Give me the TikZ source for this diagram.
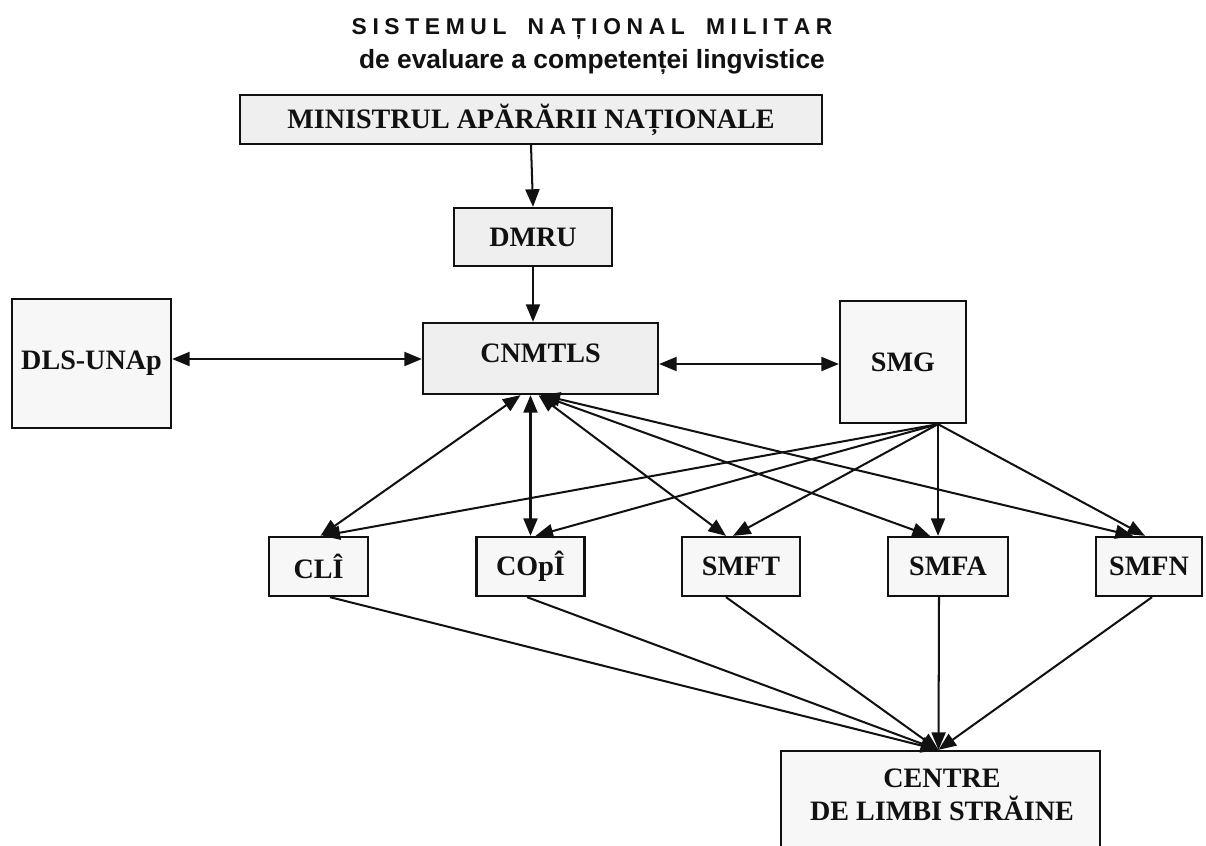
\documentclass[tikz,border=0pt]{standalone}
\usepackage{fontspec}
\setmainfont{Liberation Serif}
\newfontfamily\titlefont{Liberation Sans}
\usetikzlibrary{arrows.meta,calc}
\definecolor{fillA}{HTML}{EFEFEF}
\definecolor{fillB}{HTML}{F7F7F7}
\definecolor{ink}{HTML}{111111}
\newcommand{\pxu}{0.02cm}
\newcommand{\lsp}{\hspace{3.2pt}}
\newcommand{\wsp}{\hspace{12pt}}
\tikzset{
  box/.style={draw=ink, line width=1.3pt, rectangle, inner sep=0pt, text=ink,
    font=\bfseries\fontsize{16}{19}\selectfont, align=center},
  boxA/.style={box, fill=fillA},
  boxB/.style={box, fill=fillB},
  arr/.style={draw=ink, line width=1.15pt, -{Triangle[length=10pt,width=8pt]}},
  darr/.style={draw=ink, line width=1.15pt, {Triangle[length=10pt,width=8pt]}-{Triangle[length=10pt,width=8pt]}},
  ttl/.style={text=ink, inner sep=0pt, anchor=base}
}
\begin{document}
\begin{tikzpicture}[x=0.02cm,y=-0.02cm]
\clip (0,0) rectangle (1206,845);
\useasboundingbox (0,0) rectangle (1206,845);
\fill[white] (0,0) rectangle (1206,845);
% title
\node[ttl, font=\titlefont\bfseries\fontsize{13}{15}\selectfont] (t1) at (592,34)
  {S\lsp I\lsp S\lsp T\lsp E\lsp M\lsp U\lsp L\wsp N\lsp A\lsp Ț\lsp I\lsp O\lsp N\lsp A\lsp L\wsp M\lsp I\lsp L\lsp I\lsp T\lsp A\lsp R};
\node[ttl, font=\titlefont\bfseries\fontsize{15}{18}\selectfont] (t2) at (592,68)
  {de evaluare a competenței lingvistice};
% boxes
\node[boxA, minimum width=582*\pxu, minimum height=49*\pxu] (min) at (531,119.5) {MINISTRUL APĂRĂRII NAȚIONALE};
\node[boxA, minimum width=158*\pxu, minimum height=58*\pxu] (dmru) at (533,237) {DMRU};
\node[boxA, minimum width=235*\pxu, minimum height=71*\pxu, text depth=10*\pxu] (cnm) at (540.5,358.5) {CNMTLS};
\node[boxB, minimum width=159*\pxu, minimum height=129*\pxu] (dls) at (91.5,363.5) {DLS-UNAp};
\node[boxB, minimum width=126*\pxu, minimum height=122*\pxu] (smg) at (903,362) {SMG};
\node[boxB, minimum width=99*\pxu, minimum height=59*\pxu] (cli) at (318.5,566.5) {CLÎ};
\node[boxB, minimum width=108*\pxu, minimum height=59*\pxu] (cop) at (530.5,566.5) {COpÎ};
\node[boxB, minimum width=118*\pxu, minimum height=59*\pxu] (smft) at (741,566.5) {SMFT};
\node[boxB, minimum width=120*\pxu, minimum height=59*\pxu] (smfa) at (948,566.5) {SMFA};
\node[boxB, minimum width=106*\pxu, minimum height=59*\pxu] (smfn) at (1149,566.5) {SMFN};
\node[boxB, minimum width=319*\pxu, minimum height=130*\pxu] (cen) at (940.5,816) {};
\node[text=ink, inner sep=0pt, align=center, font=\bfseries\fontsize{16}{19}\selectfont] (centxt) at (942,795) {CENTRE\\DE LIMBI STRĂINE};
% top chain
\draw[arr] (min.south) -- (dmru.north);
\draw[arr] (dmru.south) -- (dmru.south |- cnm.north);
% horizontal double arrows
\draw[darr] ($(dls.east)+(0,-4.5)$) coordinate (d1) -- (d1 -| cnm.west);
\draw[darr] ($(cnm.east)+(0,5.5)$) coordinate (d2) -- (d2 -| smg.west);
% CNMTLS <-> bottom row
\draw[darr] ($(cnm.south)+(-20,0)$) -- ($(cli.north)+(2,0)$);
\draw[darr] (cop.north |- cnm.south) -- (cop.north);
\draw[darr] ($(cnm.south)+(-2,0)$) -- ($(smft.north)+(-15,0)$);
\draw[darr] ($(cnm.south)+(0,0)$) -- ($(smfa.north)+(-18,0)$);
\draw[darr] ($(cnm.south)+(2,0)$) -- ($(smfn.north)+(-16,0)$);
% SMG -> bottom row
\coordinate (sg) at ($(smg.south)+(35,0)$);
\draw[arr] (sg) -- ($(cli.north)+(4,0)$);
\draw[arr] (sg) -- ($(cop.north)+(5,0)$);
\draw[arr] (sg) -- ($(smft.north)+(-8,0)$);
\draw[arr] (sg) -- (sg |- smfa.north);
\draw[arr] (sg) -- ($(smfn.north)+(-4,0)$);
% bottom row -> CENTRE
\coordinate (ct) at ($(cen.north)+(-2,0)$);
\draw[arr] ($(cli.south)+(11.5,0)$) -- (ct);
\draw[arr] ($(cop.south)+(-3.5,0)$) -- (ct);
\draw[arr] ($(smft.south)+(-15,0)$) -- (ct);
\draw[arr] ($(smfa.south)+(-9,0)$) -- (ct);
\draw[arr] ($(smfn.south)+(3,0)$) -- (ct);
\end{tikzpicture}
\end{document}
